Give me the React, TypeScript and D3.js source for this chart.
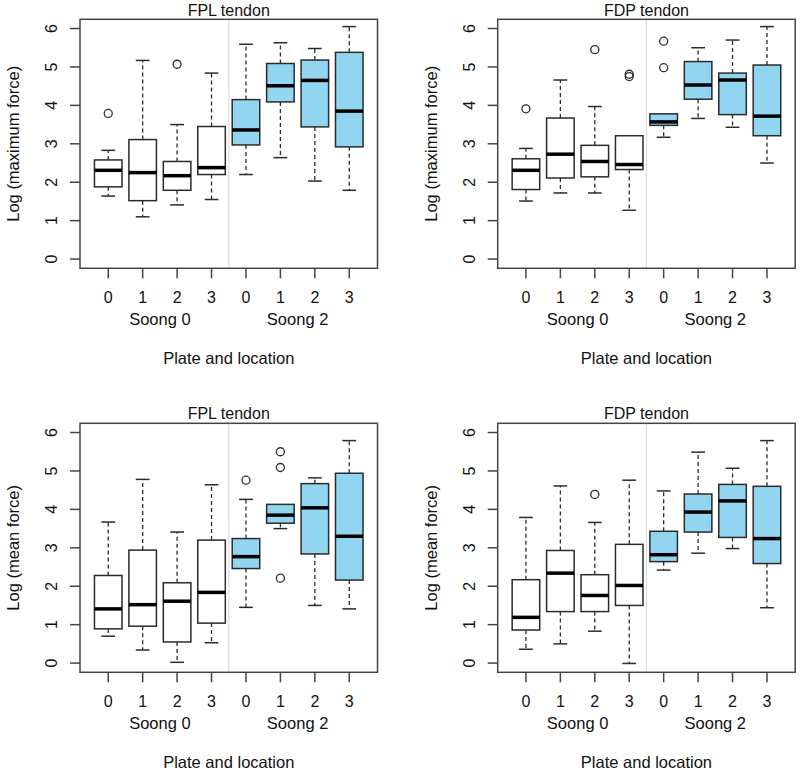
import React from "react";
import * as d3 from "d3";

// Categories (plate location within each plate)
const locations = ["0", "1", "2", "3", "0", "1", "2", "3"];
const plates = ["Soong 0", "Soong 2"];
const yTicks = [0, 1, 2, 3, 4, 5, 6];

// Each box: [lowerWhisker, Q1, median, Q3, upperWhisker]
const fplMaxStats = [
  [1.64, 1.88, 2.31, 2.58, 2.83],
  [1.10, 1.52, 2.25, 3.11, 5.17],
  [1.41, 1.79, 2.17, 2.54, 3.50],
  [1.55, 2.20, 2.38, 3.45, 4.84],
  [2.20, 2.97, 3.36, 4.15, 5.59],
  [2.64, 4.09, 4.51, 5.09, 5.63],
  [2.03, 3.44, 4.65, 5.18, 5.48],
  [1.79, 2.92, 3.85, 5.38, 6.05],
];
const fplMaxOutliers = [[3.79], [], [5.07], [], [], [], [], []];

const fdpMaxStats = [
  [1.51, 1.81, 2.31, 2.61, 2.88],
  [1.72, 2.11, 2.73, 3.67, 4.66],
  [1.72, 2.14, 2.54, 2.96, 3.97],
  [1.27, 2.33, 2.46, 3.21, 3.21],
  [3.17, 3.48, 3.57, 3.78, 3.78],
  [3.66, 4.16, 4.53, 5.14, 5.50],
  [3.43, 3.76, 4.66, 4.84, 5.70],
  [2.50, 3.21, 3.72, 5.05, 6.05],
];
const fdpMaxOutliers = [[3.91], [], [5.45], [4.81, 4.75], [5.67, 4.98], [], [], []];

const fplMeanStats = [
  [0.70, 0.89, 1.41, 2.28, 3.67],
  [0.34, 0.96, 1.52, 2.94, 4.78],
  [0.02, 0.55, 1.61, 2.09, 3.41],
  [0.53, 1.04, 1.84, 3.20, 4.64],
  [1.45, 2.46, 2.77, 3.24, 4.26],
  [3.50, 3.64, 3.85, 4.13, 4.13],
  [1.50, 2.84, 4.04, 4.67, 4.82],
  [1.41, 2.16, 3.30, 4.94, 5.79],
];
const fplMeanOutliers = [[], [], [], [], [4.76], [5.50, 5.09, 2.21], [], []];

const fdpMeanStats = [
  [0.36, 0.86, 1.19, 2.17, 3.79],
  [0.50, 1.34, 2.34, 2.93, 4.61],
  [0.83, 1.34, 1.76, 2.30, 3.66],
  [-0.01, 1.50, 2.02, 3.09, 4.76],
  [2.42, 2.64, 2.82, 3.43, 4.48],
  [2.86, 3.41, 3.93, 4.40, 5.49],
  [2.98, 3.27, 4.22, 4.65, 5.07],
  [1.44, 2.59, 3.24, 4.60, 5.79],
];
const fdpMeanOutliers = [[], [], [4.39], [], [], [], [], []];

const titles = ["FPL tendon", "FDP tendon", "FPL tendon", "FDP tendon"];
const yLabels = ["Log (maximum force)", "Log (maximum force)", "Log (mean force)", "Log (mean force)"];
const xLabel = "Plate and location";

const FILL = "#92d5f0";
const INK = "#2b2b2b";
const FRAME = "#444";
const FONT = "Liberation Sans, Arial, Helvetica, sans-serif";

type PanelProps = {
  left: number;
  top: number;
  titleDy: number;
  title: string;
  ylab: string;
  stats: number[][];
  outliers: number[][];
};

function Panel({ left, top, titleDy, title, ylab, stats, outliers }: PanelProps) {
  const w = 297.5;
  const h = 249;
  const x = d3.scaleLinear().domain([0.18, 8.82]).range([0, w]);
  const y = d3.scaleLinear().domain([-0.24, 6.24]).range([h, 0]);
  const boxHalf = 0.4;
  const capHalf = 0.2;
  return (
    <g transform={`translate(${left},${top})`} fontFamily={FONT}>
      <text x={w / 2} y={titleDy} textAnchor="middle" fontSize={16} fill="#111">
        {title}
      </text>
      {/* divider */}
      <line x1={x(4.5)} x2={x(4.5)} y1={0} y2={h} stroke="#d8dde2" strokeWidth={1.2} />
      {stats.map((s, i) => {
        const c = i + 1;
        const cx = x(c);
        const [lw, q1, med, q3, uw] = s;
        const fill = i >= 4 ? FILL : "white";
        return (
          <g key={i}>
            {uw > q3 && (
              <>
                <line x1={cx} x2={cx} y1={y(q3)} y2={y(uw)} stroke={INK} strokeWidth={1.3} strokeDasharray="4,3" />
                <line x1={x(c - capHalf)} x2={x(c + capHalf)} y1={y(uw)} y2={y(uw)} stroke={INK} strokeWidth={1.5} />
              </>
            )}
            {lw < q1 && (
              <>
                <line x1={cx} x2={cx} y1={y(q1)} y2={y(lw)} stroke={INK} strokeWidth={1.3} strokeDasharray="4,3" />
                <line x1={x(c - capHalf)} x2={x(c + capHalf)} y1={y(lw)} y2={y(lw)} stroke={INK} strokeWidth={1.5} />
              </>
            )}
            <rect
              x={x(c - boxHalf)}
              y={y(q3)}
              width={x(c + boxHalf) - x(c - boxHalf)}
              height={y(q1) - y(q3)}
              fill={fill}
              stroke={INK}
              strokeWidth={1.5}
            />
            <line x1={x(c - boxHalf)} x2={x(c + boxHalf)} y1={y(med)} y2={y(med)} stroke="#000" strokeWidth={3.5} />
            {outliers[i].map((o, j) => (
              <circle key={j} cx={cx} cy={y(o)} r={4} fill="none" stroke={INK} strokeWidth={1.3} />
            ))}
          </g>
        );
      })}
      {/* frame */}
      <rect x={0} y={0} width={w} height={h} fill="none" stroke={FRAME} strokeWidth={1.5} />
      {/* y axis */}
      {yTicks.map((t) => (
        <g key={t}>
          <line x1={-10} x2={0} y1={y(t)} y2={y(t)} stroke={FRAME} strokeWidth={1.5} />
          <text
            transform={`translate(${-23},${y(t)}) rotate(-90)`}
            textAnchor="middle"
            fontSize={16}
            fill="#111"
          >
            {t}
          </text>
        </g>
      ))}
      <text
        transform={`translate(${-61},${h / 2}) rotate(-90)`}
        textAnchor="middle"
        fontSize={16.5}
        fill="#111"
      >
        {ylab}
      </text>
      {/* x axis */}
      {locations.map((l, i) => (
        <g key={i}>
          <line x1={x(i + 1)} x2={x(i + 1)} y1={h} y2={h + 10} stroke={FRAME} strokeWidth={1.5} />
          <text x={x(i + 1)} y={h + 34.5} textAnchor="middle" fontSize={16} fill="#111">
            {l}
          </text>
        </g>
      ))}
      {plates.map((p, i) => (
        <text key={p} x={x(2.5 + i * 4)} y={h + 56.5} textAnchor="middle" fontSize={16.5} fill="#111">
          {p}
        </text>
      ))}
      <text x={w / 2} y={h + 95.5} textAnchor="middle" fontSize={16.5} fill="#111">
        {xLabel}
      </text>
    </g>
  );
}

export default function App() {
  const panels = [
    { left: 80, top: 19.3, titleDy: -3, stats: fplMaxStats, outliers: fplMaxOutliers },
    { left: 497.7, top: 19.3, titleDy: -3, stats: fdpMaxStats, outliers: fdpMaxOutliers },
    { left: 80, top: 423.3, titleDy: -4.5, stats: fplMeanStats, outliers: fplMeanOutliers },
    { left: 497.7, top: 423.3, titleDy: -4.5, stats: fdpMeanStats, outliers: fdpMeanOutliers },
  ];
  return (
    <svg
      width={800}
      height={775}
      style={{ position: "absolute", left: 0, top: 0, background: "white" }}
    >
      <rect width={800} height={775} fill="white" />
      {panels.map((p, i) => (
        <Panel key={i} {...p} title={titles[i]} ylab={yLabels[i]} />
      ))}
    </svg>
  );
}
